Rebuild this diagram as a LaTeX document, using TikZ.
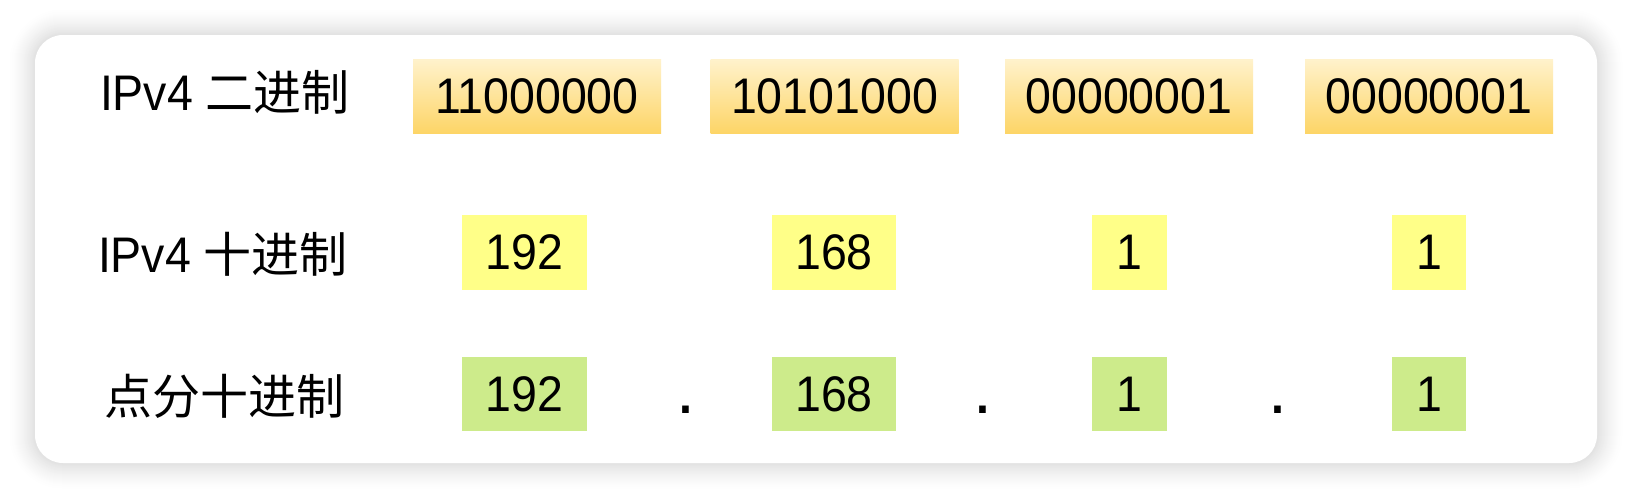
\documentclass[tikz,border=0pt]{standalone}
\usepackage{fontspec}
\setmainfont[FakeStretch=0.93]{Liberation Sans}
\newfontfamily\cjk{Noto Sans CJK SC}
\definecolor{binTop}{HTML}{FFF2CC}
\definecolor{binBot}{HTML}{FDD567}
\definecolor{decY}{HTML}{FFFF88}
\definecolor{dotG}{HTML}{CDEB8B}
\begin{document}
\begin{tikzpicture}[x=1pt,y=-1pt,
  every node/.style={font=\fontsize{50}{58}\selectfont, text=black},
  binbox/.style={inner sep=0pt, minimum width=248pt, minimum height=74pt, top color=binTop, bottom color=binBot},
  decbox/.style={inner sep=0pt, minimum height=75pt, fill=decY},
  dotbox/.style={inner sep=0pt, minimum height=74pt, fill=dotG},
  rowlabel/.style={inner sep=0pt, anchor=base},
  sepdot/.style={inner sep=0pt, anchor=base}]
\useasboundingbox[fill=white] (0,0) rectangle (1632,498);
% soft shadow around the card
\foreach \i in {1,...,26}{
  \pgfmathsetmacro{\r}{27-\i}
  \pgfmathsetmacro{\p}{11*(\i/26)^1.5}
  \fill[black!\p, rounded corners=28+\r] (35-\r,35-\r) rectangle (1597+\r,463+\r);
}
% card
\fill[white, rounded corners=28] (35,35) rectangle (1597,463);
% row labels
\node[rowlabel] (l1) at (225,110) {IPv4 {\cjk\fontsize{48}{56}\selectfont 二进制}};
\node[rowlabel] (l2) at (223,272) {IPv4 {\cjk\fontsize{48}{56}\selectfont 十进制}};
\node[rowlabel] (l3) at (224,414) {{\cjk\fontsize{48}{56}\selectfont 点分十进制}};
% row 1: binary
\node[binbox] (b1) at (537,96) {11000000};
\node[binbox] (b2) at (834.5,96) {10101000};
\node[binbox] (b3) at (1129,96) {00000001};
\node[binbox] (b4) at (1429,96) {00000001};
% row 2: decimal
\node[decbox, minimum width=125pt] (d1) at (524.5,252.5) {192};
\node[decbox, minimum width=124pt] (d2) at (834,252.5) {168};
\node[decbox, minimum width=75pt] (d3) at (1129.5,252.5) {1};
\node[decbox, minimum width=74pt] (d4) at (1429,252.5) {1};
% row 3: dotted decimal
\node[dotbox, minimum width=125pt] (g1) at (524.5,394) {192};
\node[dotbox, minimum width=124pt] (g2) at (834,394) {168};
\node[dotbox, minimum width=75pt] (g3) at (1129.5,394) {1};
\node[dotbox, minimum width=74pt] (g4) at (1429,394) {1};
\node[sepdot] (s1) at (686,413) {\textbf{.}};
\node[sepdot] (s2) at (983,413) {\textbf{.}};
\node[sepdot] (s3) at (1278,413) {\textbf{.}};
\end{tikzpicture}
\end{document}
